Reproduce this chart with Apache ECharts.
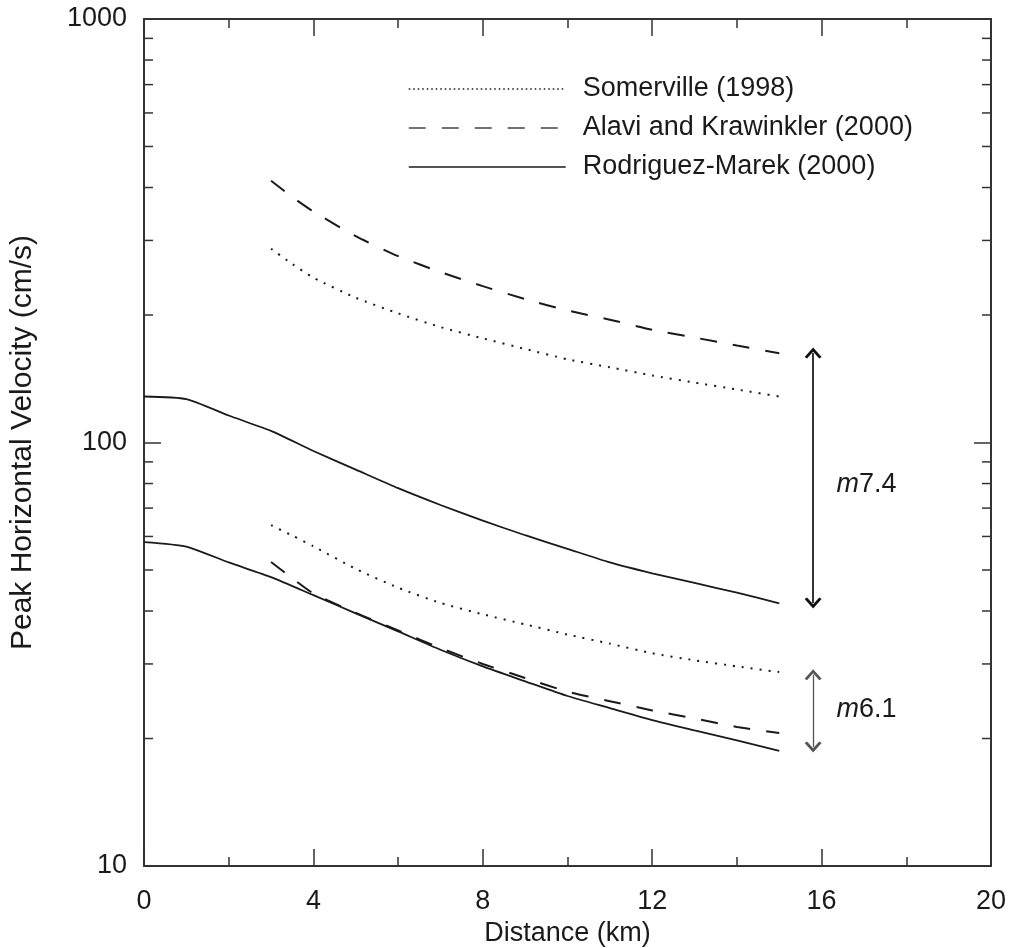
<!DOCTYPE html>
<html>
<head>
<meta charset="utf-8">
<script src="https://cdn.jsdelivr.net/npm/echarts@6/dist/echarts.min.js"></script>
<style>
html, body { margin: 0; padding: 0; background: #fff; }
#chart { width: 1010px; height: 948px; }
</style>
</head>
<body>
<div id="chart"></div>
<script>
// distances (km)
var distFull = [0, 1, 2, 3, 4, 5, 6, 7, 8, 9, 10, 11, 12, 13, 14, 15];
var distNear = [3, 3.5, 4, 5, 6, 7, 8, 9, 10, 11, 12, 13, 14, 15];

// peak horizontal velocity (cm/s)
var rodriguez74 = [128.4, 126.6, 115.8, 106.5, 95.5, 86.3, 78.0, 71.2, 65.4, 60.4, 56.1, 52.1, 49.1, 46.6, 44.2, 41.7];
var rodriguez61 = [58.2, 56.8, 52.1, 48.1, 43.6, 39.5, 35.8, 32.4, 29.6, 27.3, 25.2, 23.6, 22.1, 20.9, 19.8, 18.7];
var alavi74 = [415, 380, 351, 307, 275.5, 252.6, 234, 218, 205, 195, 184.5, 176.9, 169.4, 162.4];
var alavi61 = [52.2, 47.8, 44.0, 39.6, 36.0, 32.7, 30.0, 27.8, 25.8, 24.5, 23.3, 22.3, 21.3, 20.6];
var somerville74 = [286.8, 264, 245, 219.7, 201.8, 187.3, 176.2, 166.3, 157.2, 150.5, 144.0, 138.5, 133.4, 128.4];
var somerville61 = [63.8, 60.3, 56.9, 50.3, 45.4, 41.8, 39.3, 37.2, 35.2, 33.5, 31.8, 30.6, 29.6, 28.7];

var legendNames = ['Somerville (1998)', 'Alavi and Krawinkler (2000)', 'Rodriguez-Marek (2000)'];

// log-axis minor ticks
var minorTickValues = [20, 30, 40, 50, 60, 70, 80, 90, 200, 300, 400, 500, 600, 700, 800, 900];

// magnitude range arrows
var arrowDist = 15.8;
var arrowTop = [162.7, 28.3];
var arrowBottom = [41.8, 19.1];
var magLabels = ['7.4', '6.1'];
var magLabelDist = 16.35;
var magLabelValue = [79.4, 23.4];

var FONT = "'Liberation Sans', Arial, Helvetica, sans-serif";
var INK = '#1a1a1a';
var FS = 27;

function pairs(xs, ys) {
    return xs.map(function (x, i) { return [x, ys[i]]; });
}

var chevron = 'path://M0,10 L8.5,0 L17,10 L14.6,11.6 L8.5,4.4 L2.4,11.6 Z';

var dotted = [2, 7];
var dashed = [17, 16];

function curve(name, xs, ys, type) {
    return {
        name: name,
        type: 'line',
        data: pairs(xs, ys),
        symbol: 'none',
        showSymbol: false,
        smooth: 0.2,
        silent: true,
        color: INK,
        lineStyle: { color: INK, width: type === 'solid' ? 1.8 : 2, type: type }
    };
}

var axisCommonX = {
    type: 'value', min: 0, max: 20, interval: 4,
    axisLine: { show: true, onZero: false, lineStyle: { color: '#333', width: 2 } },
    axisTick: { show: true, inside: true, length: 17, lineStyle: { color: '#333', width: 1.5 } },
    minorTick: { show: true, splitNumber: 2, length: 9, lineStyle: { color: '#333', width: 1.5 } },
    splitLine: { show: false }
};

var axisCommonY = {
    type: 'log', min: 10, max: 1000, logBase: 10,
    axisLine: { show: true, onZero: false, lineStyle: { color: '#333', width: 2 } },
    axisTick: { show: true, inside: true, length: 17, lineStyle: { color: '#333', width: 1.5 } },
    splitLine: { show: false }
};

var chart = echarts.init(document.getElementById('chart'));

var option = {
    animation: false,
    backgroundColor: '#fff',
    grid: { left: 144, right: 19, top: 19, bottom: 82, containLabel: false, outerBoundsMode: 'none' },
    legend: {
        orient: 'vertical',
        left: 403,
        top: 70,
        itemWidth: 157,
        itemHeight: 14,
        itemGap: 11,
        selectedMode: false,
        itemStyle: { opacity: 0 },
        data: [
            { name: legendNames[0], lineStyle: { type: [1.5, 3], width: 1.5, color: INK } },
            { name: legendNames[1], lineStyle: { type: [17, 16], width: 1.5, color: '#444' } },
            { name: legendNames[2], lineStyle: { width: 1.5, color: INK } }
        ],
        textStyle: { fontFamily: FONT, fontSize: FS, color: INK, padding: [0, 0, 0, 12], lineHeight: 28 }
    },
    xAxis: [
        Object.assign({}, axisCommonX, {
            position: 'bottom',
            name: 'Distance (km)',
            nameLocation: 'middle',
            nameGap: 51,
            nameTextStyle: { fontFamily: FONT, fontSize: FS, color: INK },
            axisLabel: { fontFamily: FONT, fontSize: FS, color: INK, margin: 22, showMinLabel: true, showMaxLabel: true }
        }),
        Object.assign({}, axisCommonX, {
            position: 'top',
            axisLabel: { show: false }
        })
    ],
    yAxis: [
        Object.assign({}, axisCommonY, {
            position: 'left',
            name: 'Peak Horizontal Velocity (cm/s)',
            nameLocation: 'middle',
            nameGap: 106,
            nameTextStyle: { fontFamily: FONT, fontSize: 30, color: INK },
            axisLabel: {
                fontFamily: FONT, fontSize: FS, color: INK, margin: 17,
                showMinLabel: true, showMaxLabel: true,
                formatter: function (v) { return String(v); }
            }
        }),
        Object.assign({}, axisCommonY, {
            position: 'right',
            axisLabel: { show: false }
        })
    ],
    series: [
        curve(legendNames[0], distNear, somerville74, dotted),
        curve(legendNames[0], distNear, somerville61, dotted),
        curve(legendNames[1], distNear, alavi74, dashed),
        curve(legendNames[1], distNear, alavi61, dashed),
        curve(legendNames[2], distFull, rodriguez74, 'solid'),
        curve(legendNames[2], distFull, rodriguez61, 'solid'),
        {
            name: 'minor ticks',
            type: 'custom',
            silent: true,
            clip: false,
            data: minorTickValues.map(function (v) { return [0, v]; }),
            renderItem: function (params, api) {
                var v = api.value(1);
                var l = api.coord([0, v]);
                var r = api.coord([20, v]);
                var style = { stroke: '#333', lineWidth: 1.5 };
                return {
                    type: 'group',
                    children: [
                        { type: 'line', shape: { x1: l[0], y1: l[1], x2: l[0] + 9, y2: l[1] }, style: style },
                        { type: 'line', shape: { x1: r[0], y1: r[1], x2: r[0] - 9, y2: r[1] }, style: style }
                    ]
                };
            }
        },
        {
            name: 'magnitude',
            type: 'line',
            data: [],
            silent: true,
            markLine: {
                silent: true,
                symbol: [chevron, chevron],
                symbolSize: [17, 11],
                label: { show: false },
                data: [
                    [{ coord: [arrowDist, arrowTop[0]], lineStyle: { color: '#111', width: 1.7, type: 'solid' } },
                     { coord: [arrowDist, arrowBottom[0]] }],
                    [{ coord: [arrowDist, arrowTop[1]], lineStyle: { color: '#555', width: 1.3, type: 'solid' } },
                     { coord: [arrowDist, arrowBottom[1]] }]
                ]
            },
            markPoint: {
                silent: true,
                symbol: 'circle',
                symbolSize: 0,
                label: {
                    show: true,
                    position: 'right',
                    distance: 0,
                    formatter: function (p) { return '{i|m}{n|' + p.name + '}'; },
                    rich: {
                        i: { fontFamily: FONT, fontSize: FS, fontStyle: 'italic', color: INK },
                        n: { fontFamily: FONT, fontSize: FS, color: INK }
                    }
                },
                data: magLabels.map(function (m, i) {
                    return { name: m, coord: [magLabelDist, magLabelValue[i]] };
                })
            }
        }
    ]
};

chart.setOption(option);
</script>
</body>
</html>
